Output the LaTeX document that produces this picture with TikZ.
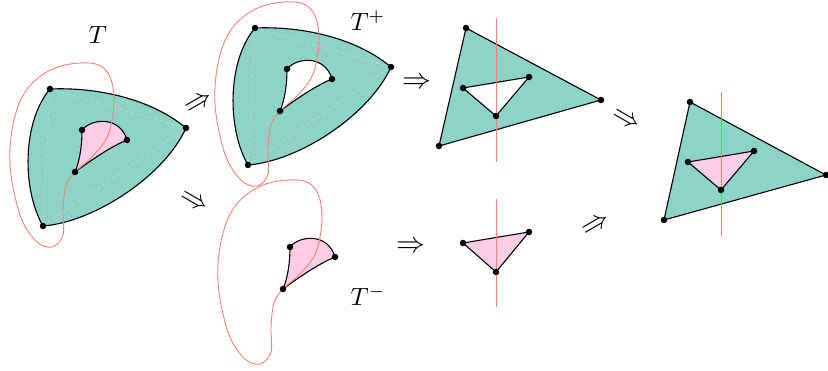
\documentclass[tikz,border=0pt]{standalone}
\definecolor{tealc}{HTML}{8DD3C7}
\definecolor{pinkc}{HTML}{FCCDE5}
\definecolor{redc}{HTML}{FB8072}
\begin{document}
\begin{tikzpicture}[x=1pt,y=-1pt,
  blk/.style={line width=1.1pt, line join=round},
  chord/.style={white, opacity=0.45, line width=0.5pt, dashed},
  redloop/.style={redc, line width=0.9pt},
  vdot/.style={circle, fill=black, inner sep=0pt, minimum size=6.5pt},
  outerT/.style={insert path={(50,89) .. controls (95,87) and (150,98) .. (186,128) .. controls (165,175) and (95,222) .. (43,226) .. controls (22,190) and (22,122) .. (50,89) -- cycle}},
  innerT/.style={insert path={(82,130) .. controls (92,118) and (120,116) .. (127,140) .. controls (110,147) and (90,161) .. (75,172) .. controls (80,160) and (82,145) .. (82,130) -- cycle}},
  loopP/.style={insert path={plot[smooth cycle, tension=0.6] coordinates {(90,63) (108,73) (114,100) (108,135) (92,157) (75,172) (66,186) (63,210) (63,235) (52,247) (36,241) (20,215) (10,165) (14,120) (28,88) (55,68)}}},
  arr/.style={scale=2.9, inner sep=0pt},
  lab/.style={scale=2.5, inner sep=0pt}
]
\useasboundingbox (0,0) rectangle (828,370);

% ---------- Figure 1: T ----------
\begin{scope}
  \coordinate (A1) at (50,89); \coordinate (B1) at (186,128); \coordinate (C1) at (43,226);
  \coordinate (a1) at (82,130); \coordinate (b1) at (127,140); \coordinate (c1) at (75,172);
  \fill[tealc, outerT];
  \fill[pinkc, innerT];
  \draw[chord] (A1) -- (B1) -- (C1) -- cycle;
  \draw[chord] (a1) -- (b1) (a1) -- (c1);
  \draw[blk, outerT];
  \draw[blk, innerT];
  \draw[redloop, loopP];
  \foreach \p in {A1,B1,C1,a1,b1,c1} \node[vdot] at (\p) {};
\end{scope}

% ---------- Figure 2: T+ ----------
\begin{scope}[shift={(205,-61)}]
  \coordinate (A2) at (50,89); \coordinate (B2) at (186,128); \coordinate (C2) at (43,226);
  \coordinate (a2) at (82,130); \coordinate (b2) at (127,140); \coordinate (c2) at (75,172);
  \fill[tealc, outerT];
  \fill[white, innerT];
  \draw[chord] (A2) -- (B2) -- (C2) -- cycle;
  \draw[chord, tealc!60] (a2) -- (b2) (a2) -- (c2);
  \draw[blk, outerT];
  \draw[blk, innerT];
  \draw[redloop, loopP];
  \foreach \p in {A2,B2,C2,a2,b2,c2} \node[vdot] at (\p) {};
\end{scope}

% ---------- Figure 3: T- ----------
\begin{scope}[shift={(208,117)}]
  \coordinate (a3) at (82,130); \coordinate (b3) at (127,140); \coordinate (c3) at (75,172);
  \fill[pinkc, innerT];
  \draw[chord, black!10] (a3) -- (c3);
  \draw[chord] (a3) -- (b3);
  \draw[blk, innerT];
  \draw[redloop, loopP];
  \foreach \p in {a3,b3,c3} \node[vdot] at (\p) {};
\end{scope}

% ---------- Figure 4 ----------
\coordinate (A4) at (466,28); \coordinate (B4) at (601,100); \coordinate (C4) at (439,146);
\coordinate (a4) at (463,88); \coordinate (b4) at (529,77); \coordinate (c4) at (496,116);
\coordinate (t4) at (496,18); \coordinate (u4) at (496,162);
\filldraw[fill=tealc, blk] (A4) -- (B4) -- (C4) -- cycle;
\filldraw[fill=white, blk] (a4) -- (b4) -- (c4) -- cycle;
\draw[redloop] (t4) -- (u4);
\foreach \p in {A4,B4,C4,a4,b4,c4} \node[vdot] at (\p) {};

% ---------- Figure 5 ----------
\coordinate (a5) at (463,243); \coordinate (b5) at (529,232); \coordinate (c5) at (496,272);
\coordinate (t5) at (496,199); \coordinate (u5) at (496,307);
\filldraw[fill=pinkc, blk] (a5) -- (b5) -- (c5) -- cycle;
\draw[redloop] (t5) -- (u5);
\foreach \p in {a5,b5,c5} \node[vdot] at (\p) {};

% ---------- Figure 6 ----------
\coordinate (A6) at (690,102); \coordinate (B6) at (826,175); \coordinate (C6) at (664,220);
\coordinate (a6) at (688,162); \coordinate (b6) at (754,151); \coordinate (c6) at (721,190);
\coordinate (t6) at (721,92); \coordinate (u6) at (721,236);
\filldraw[fill=tealc, blk] (A6) -- (B6) -- (C6) -- cycle;
\filldraw[fill=pinkc, blk] (a6) -- (b6) -- (c6) -- cycle;
\draw[redloop] (t6) -- (u6);
\foreach \p in {A6,B6,C6,a6,b6,c6} \node[vdot] at (\p) {};

% ---------- arrows ----------
\node[arr, rotate=30] (r1) at (199,104) {$\Rightarrow$};
\node[arr, rotate=-30] (r2) at (194,202) {$\Rightarrow$};
\node[arr] (r3) at (417,83) {$\Rightarrow$};
\node[arr] (r4) at (411,247) {$\Rightarrow$};
\node[arr, rotate=-30] (r5) at (626,120) {$\Rightarrow$};
\node[arr, rotate=30] (r6) at (596,226) {$\Rightarrow$};

% ---------- labels ----------
\node[lab] (tT) at (98,35) {$T$};
\node[lab] (tTp) at (368,21) {$T^+$};
\node[lab] (tTm) at (368,296) {$T^-$};
\end{tikzpicture}
\end{document}
